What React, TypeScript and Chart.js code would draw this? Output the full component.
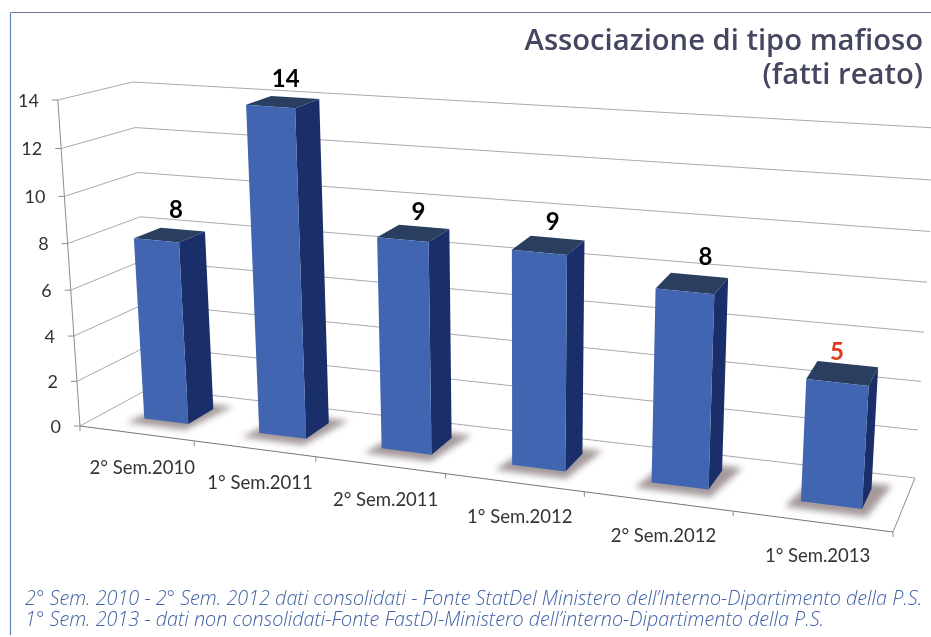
import React, { useEffect, useRef } from "react";
import { Chart, registerables } from "chart.js";

Chart.register(...registerables);

const categories = ["2° Sem.2010", "1° Sem.2011", "2° Sem.2011", "1° Sem.2012", "2° Sem.2012", "1° Sem.2013"];
const values = [8, 14, 9, 9, 8, 5];
const labelColors = ["#000000", "#000000", "#000000", "#000000", "#000000", "#e2391c"];
const titleLines = ["Associazione di tipo mafioso", "(fatti reato)"];
const noteLines = [
  "2° Sem. 2010 - 2° Sem. 2012 dati consolidati - Fonte StatDel Ministero dell’Interno-Dipartimento della P.S.",
  "1° Sem. 2013 - dati non consolidati-Fonte FastDI-Ministero dell’interno-Dipartimento della P.S.",
];

// The 3D box of the plot: floor corners as front-left, front-right, back-right, back-left
const FLOOR: number[][] = [[80, 426], [893, 532], [915, 478], [150, 388]];
// Height of the full axis at those same corners, and the point where the verticals meet
const WALL_HEIGHT = [326, 360, 350, 306];
const VANISH = [520, 6900];
const RISE_PERSPECTIVE = 0.05;
const DEPTH_FRONT = 0.32;
const DEPTH_BACK = 0.7;
const BAR_SHIFT = 0.011;
// Small hand offsets of the value labels from their bars
const LABEL_DX = [0, -3, 0, 0, 10, -8];
const LABEL_DY = [-4, -2, 1, 0, -2, 4];

function homography(q: number[][]) {
  const [[x0, y0], [x1, y1], [x2, y2], [x3, y3]] = q;
  const dx1 = x1 - x2, dx2 = x3 - x2, sx = x0 - x1 + x2 - x3;
  const dy1 = y1 - y2, dy2 = y3 - y2, sy = y0 - y1 + y2 - y3;
  const den = dx1 * dy2 - dx2 * dy1;
  const g = (sx * dy2 - dx2 * sy) / den;
  const h = (dx1 * sy - sx * dy1) / den;
  const a = x1 - x0 + g * x1, b = x3 - x0 + h * x3;
  const d = y1 - y0 + g * y1, e = y3 - y0 + h * y3;
  return (u: number, v: number) => {
    const w = g * u + h * v + 1;
    return [(a * u + b * v + x0) / w, (d * u + e * v + y0) / w];
  };
}
const floorMap = homography(FLOOR);
const project = (u: number, d: number, h: number) => {
  const f = floorMap(u, d);
  const [a, b, c, e] = WALL_HEIGHT;
  const full = (a * (1 - u) + b * u) * (1 - d) + (e * (1 - u) + c * u) * d;
  const up = (full * h) / (1 + RISE_PERSPECTIVE * (1 - h));
  return [f[0] + ((f[0] - VANISH[0]) * up) / (VANISH[1] - f[1]), f[1] - up];
};

function poly(ctx: CanvasRenderingContext2D, pts: number[][], fill: string | CanvasGradient) {
  ctx.beginPath();
  pts.forEach((p, i) => (i ? ctx.lineTo(p[0], p[1]) : ctx.moveTo(p[0], p[1])));
  ctx.closePath();
  ctx.fillStyle = fill;
  ctx.fill();
}
function line(ctx: CanvasRenderingContext2D, a: number[], b: number[], color: string) {
  ctx.beginPath();
  ctx.moveTo(a[0], a[1]);
  ctx.lineTo(b[0], b[1]);
  ctx.strokeStyle = color;
  ctx.lineWidth = 1;
  ctx.stroke();
}

const perspective = {
  id: "perspective",
  beforeDraw(chart: any) {
    const { ctx, width, height } = chart;
    ctx.save();
    ctx.fillStyle = "#ffffff";
    ctx.fillRect(0, 0, width, height);
    ctx.lineWidth = 1.2;
    ctx.strokeStyle = "#75739a";
    ctx.beginPath();
    ctx.moveTo(width, 12.5);
    ctx.lineTo(10.5, 12.5);
    ctx.stroke();
    ctx.strokeStyle = "#5f86bd";
    ctx.beginPath();
    ctx.moveTo(10.5, 12.5);
    ctx.lineTo(10.5, height - 2);
    ctx.stroke();
    ctx.restore();
  },
  beforeDatasetsDraw(chart: any) {
    const { ctx, scales } = chart;
    const y = scales.y, x = scales.x;
    const gridCol = "#aaa7b2";
    const axisCol = "#8d8a96";
    ctx.save();
    y.ticks.forEach((t: any) => {
      const h = t.value / y.max;
      const a = project(0, 0, h), b = project(0, 1, h), c = project(1, 1, h);
      line(ctx, a, b, gridCol);
      line(ctx, b, c, gridCol);
      line(ctx, a, [a[0] - 6, a[1]], axisCol);
      ctx.fillStyle = "#333333";
      ctx.font = "18px Lato";
      ctx.textAlign = "right";
      ctx.textBaseline = "middle";
      ctx.fillText(String(t.value), a[0] - 19, a[1] + 1);
    });
    line(ctx, project(0, 0, 0), project(0, 0, 1), axisCol);
    line(ctx, project(0, 0, 0), project(1, 0, 0), "#77747f");
    line(ctx, project(1, 0, 0), project(1, 1, 0), axisCol);
    const n = categories.length;
    for (let i = 0; i <= n; i++) {
      const p = project(i / n, 0, 0);
      line(ctx, p, [p[0], p[1] + 5], axisCol);
    }
    x.ticks.forEach((t: any, i: number) => {
      const p = project((i + 0.5) / n, 0, 0);
      ctx.fillStyle = "#333333";
      ctx.font = "18.5px Lato";
      ctx.textAlign = "center";
      ctx.textBaseline = "middle";
      ctx.fillText(String(categories[t.value]), p[0] + 6, p[1] + 34.5);
    });
    ctx.restore();
  },
  beforeDatasetDraw(chart: any, args: any) {
    const { ctx, chartArea, scales } = chart;
    const meta = args.meta;
    const L = scales.x.left, W = scales.x.width;
    const H = chartArea.bottom - chartArea.top;
    const d0 = DEPTH_FRONT, d1 = DEPTH_BACK;
    ctx.save();
    meta.data.forEach((el: any, i: number) => {
      const u0 = (el.x - el.width / 2 - L) / W + BAR_SHIFT;
      const u1 = (el.x + el.width / 2 - L) / W + BAR_SHIFT;
      const h = (el.base - el.y) / H;
      ctx.save();
      ctx.filter = "blur(3px)";
      const pad = (u1 - u0) * 0.2;
      poly(ctx, [project(u0 - pad, d0 - 0.13, 0), project(u1 + pad * 0.6, d0 - 0.13, 0), project(u1 + pad * 1.5, d1 + 0.1, 0), project(u0, d1 + 0.1, 0)], "rgba(135,120,122,0.75)");
      ctx.restore();
      const fb = project(u0, d0, 0), gb = project(u1, d0, 0), gB = project(u1, d1, 0);
      const ft = project(u0, d0, h), gt = project(u1, d0, h), gT = project(u1, d1, h), fT = project(u0, d1, h);
      poly(ctx, [gb, gB, gT, gt], el.options.borderColor);
      poly(ctx, [ft, gt, gT, fT], "#2a3f60");
      poly(ctx, [fb, gb, gt, ft], el.options.backgroundColor);
      const lp = project((u0 + u1) / 2, 0.6, h);
      ctx.fillStyle = labelColors[i];
      ctx.font = "700 24px Lato";
      ctx.textAlign = "center";
      ctx.textBaseline = "alphabetic";
      const top = project((u0 + u1) / 2, d1, h);
      ctx.fillText(String(values[i]), lp[0] + LABEL_DX[i], top[1] - 8 + LABEL_DY[i]);
    });
    ctx.restore();
    return false;
  },
};

export default function App() {
  const ref = useRef<HTMLCanvasElement>(null);
  useEffect(() => {
    const chart = new Chart(ref.current as HTMLCanvasElement, {
      type: "bar",
      data: {
        labels: categories,
        datasets: [
          {
            data: values,
            backgroundColor: "#4165b1",
            borderColor: "#1a2e69",
            barPercentage: 0.39,
            categoryPercentage: 1,
          },
        ],
      },
      options: {
        responsive: false,
        animation: false,
        layout: { padding: { left: 25, right: 8, top: 0, bottom: 0 } },
        scales: {
          x: { display: false },
          y: { display: false, min: 0, max: 14, ticks: { stepSize: 2 } },
        },
        plugins: {
          legend: { display: false },
          tooltip: { enabled: false },
          title: {
            display: true,
            text: titleLines,
            align: "end",
            color: "#45465f",
            font: { family: "'Open Sans'", size: 29.2, weight: 600, lineHeight: 1.15 },
            padding: { top: 25, bottom: 10 },
          },
          subtitle: {
            display: true,
            position: "bottom",
            text: noteLines,
            align: "start",
            color: "#4162a5",
            font: { family: "'Open Sans'", size: 19.8, style: "italic", weight: 300, lineHeight: 1.06 },
            padding: { top: 4, bottom: 6 },
          },
        },
      },
      plugins: [perspective],
    } as any);
    return () => chart.destroy();
  }, []);
  return (
    <div style={{ position: "absolute", left: 0, top: 0, width: 931, height: 637 }}>
      <canvas ref={ref} width={931} height={637} style={{ display: "block" }} />
    </div>
  );
}
